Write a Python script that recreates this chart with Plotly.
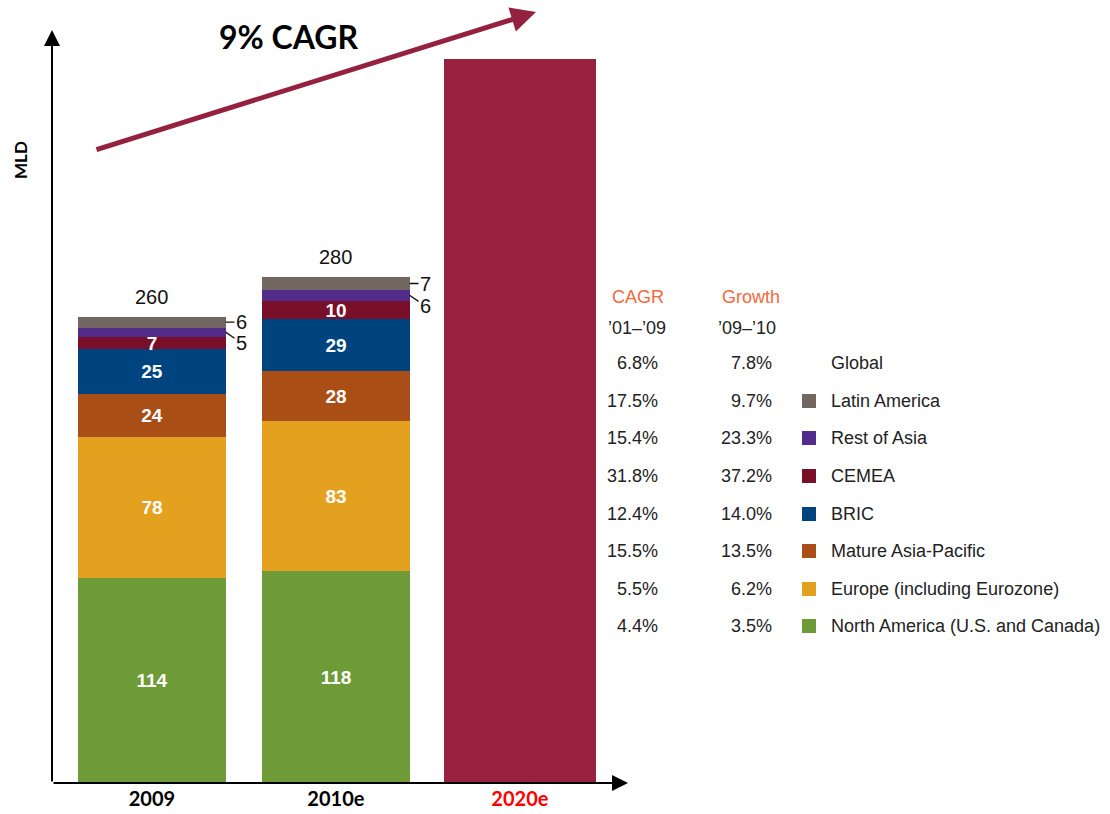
import plotly.graph_objects as go

# ---------------- data ----------------
years = ["2009", "2010e", "2020e"]
regions = ["North America (U.S. and Canada)", "Europe (including Eurozone)",
           "Mature Asia-Pacific", "BRIC", "CEMEA", "Rest of Asia", "Latin America"]
region_colors = ["#6E9B37", "#E4A11F", "#A84E16", "#00447F", "#7A0F29", "#522C8A", "#736861"]
values_2009 = [114, 78, 24, 25, 7, 5, 6]
values_2010e = [118, 83, 28, 29, 10, 6, 7]
totals = [260, 280]
value_2020e = 402
color_2020e = "#97213E"

# table (top-down order)
table_rows = ["Global", "Latin America", "Rest of Asia", "CEMEA", "BRIC",
              "Mature Asia-Pacific", "Europe (including Eurozone)", "North America (U.S. and Canada)"]
cagr_01_09 = ["6.8%", "17.5%", "15.4%", "31.8%", "12.4%", "15.5%", "5.5%", "4.4%"]
growth_09_10 = ["7.8%", "9.7%", "23.3%", "37.2%", "14.0%", "13.5%", "6.2%", "3.5%"]

outside_labeled = {"Rest of Asia": 11, "Latin America": 0}

# ---------------- layout helpers ----------------
W, H = 1110, 814
ML, MB = 52, 31
PW, PH = W - ML, H - MB


def px(x):
    return (x - ML) / PW


def py(y):
    return (PH - y) / PH


BODY = "Liberation Sans, Arial, sans-serif"
HEAD = "Lato, Open Sans, sans-serif"


def pann(text, x, y, xanchor="center", size=18, color="#222", family=BODY, **kw):
    d = dict(x=px(x), y=py(y), xref="paper", yref="paper", text=text, showarrow=False,
             xanchor=xanchor, yanchor="middle", font=dict(family=family, size=size, color=color))
    d.update(kw)
    return d


fig = go.Figure()
stack = [values_2009, values_2010e]
for i, reg in enumerate(regions):
    vals = [s[i] for s in stack]
    txt = ["" if reg in outside_labeled else "<b>%d</b>" % v for v in vals]
    fig.add_trace(go.Bar(
        x=years[:2], y=vals, name=reg, marker_color=region_colors[i],
        marker_line_width=0, width=0.8, text=txt, textposition="inside",
        insidetextanchor="middle", textangle=0, cliponaxis=False,
        textfont=dict(family=BODY, size=19, color="white"), showlegend=False))

fig.add_trace(go.Bar(x=[years[2]], y=[value_2020e], marker_color=color_2020e,
                     marker_line_width=0, width=0.83, showlegend=False))

annotations = []
# totals and outside labels
for j, s in enumerate(stack):
    annotations.append(dict(x=j, y=sum(s), xref="x", yref="y", text=str(totals[j]),
                            showarrow=False, xanchor="center", yanchor="bottom", yshift=7,
                            font=dict(family=BODY, size=20, color="#111")))
    for i, reg in enumerate(regions):
        if reg in outside_labeled:
            ymid = sum(s[:i]) + s[i] / 2
            annotations.append(dict(x=j + 0.4, y=ymid, xref="x", yref="y", text=str(s[i]),
                                    showarrow=True, arrowhead=0, arrowwidth=1.3, arrowcolor="#111",
                                    ax=16, ay=outside_labeled[reg], standoff=0,
                                    xanchor="center", yanchor="middle",
                                    font=dict(family=BODY, size=20, color="#111")))

# axes arrows
annotations.append(dict(x=0, y=py(30), xref="paper", yref="paper", text="", showarrow=True,
                        ax=0, ay=753, arrowhead=2, arrowsize=1.6, arrowwidth=2, arrowcolor="black"))
annotations.append(dict(x=px(628), y=0, xref="paper", yref="paper", text="", showarrow=True,
                        ax=-576, ay=0, arrowhead=2, arrowsize=1.6, arrowwidth=2, arrowcolor="black"))
# CAGR arrow
annotations.append(dict(x=px(536), y=py(12), xref="paper", yref="paper", text="", showarrow=True,
                        ax=-441, ay=138, arrowhead=2, arrowsize=1.0, arrowwidth=5, arrowcolor="#952140"))
annotations.append(pann("<b>9% CAGR</b>", 288, 37, size=32, color="black", family=HEAD))
# y label
annotations.append(pann("<b>MLD</b>", 20, 160, size=17, color="black", family=HEAD, textangle=-90))

# table
HDR = "#F4683B"
annotations.append(pann("CAGR", 638, 297, color=HDR))
annotations.append(pann("Growth", 720, 297, xanchor="left", color=HDR))
annotations.append(pann("’01–’09", 637, 328))
annotations.append(pann("’09–’10", 716, 328, xanchor="left"))
row_y = [363, 401, 438, 476, 514, 551, 589, 626]
shapes = []
for k, name in enumerate(table_rows):
    y = row_y[k]
    annotations.append(pann(cagr_01_09[k], 660, y, xanchor="right"))
    annotations.append(pann(growth_09_10[k], 774, y, xanchor="right"))
    annotations.append(pann(name, 829, y, xanchor="left"))
    if name in regions:
        c = region_colors[regions.index(name)]
        shapes.append(dict(type="rect", xref="paper", yref="paper", x0=px(802), x1=px(816),
                           y0=py(y + 7), y1=py(y - 7), fillcolor=c, line=dict(width=0)))

fig.update_layout(
    width=W, height=H, template="none", barmode="stack", bargap=0,
    uniformtext=dict(mode="show", minsize=19),
    margin=dict(l=ML, r=0, t=0, b=MB, autoexpand=False),
    paper_bgcolor="white", plot_bgcolor="white",
    xaxis=dict(type="category", categoryorder="array", categoryarray=years,
               range=[-0.543, -0.543 + PW / 184], tickvals=years,
               ticktext=["<b>2009</b>", "<b>2010e</b>", "<b><span style='color:#FF0000'>2020e</span></b>"],
               tickfont=dict(family=HEAD, size=20, color="black"), ticks="", showline=False,
               showgrid=False, zeroline=False, automargin=False, ticklabelstandoff=2),
    yaxis=dict(range=[0, PH / 1.8], showticklabels=False, ticks="", showline=False,
               showgrid=False, zeroline=False, automargin=False),
    annotations=annotations, shapes=shapes,
)

fig.write_html("out.html")
